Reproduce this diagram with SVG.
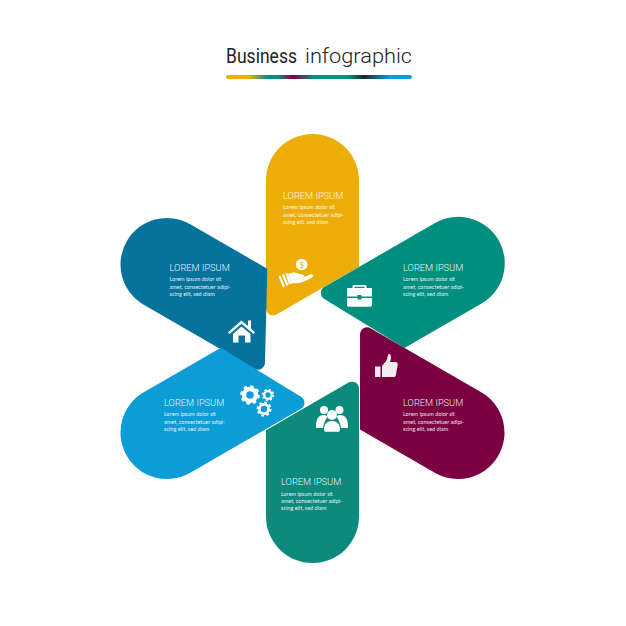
<svg xmlns="http://www.w3.org/2000/svg" width="626" height="626" viewBox="0 0 626 626">
<style>
.h{font-family:Roboto,"Liberation Sans",sans-serif;font-size:21px;fill:#222}
.t{font-family:Roboto,"Liberation Sans",sans-serif;font-size:9.300px;font-weight:300;fill:#fff;fill-opacity:.95}
.b{font-family:Lato,"Liberation Sans",sans-serif;font-size:5.500px;font-weight:400;fill:#fff;fill-opacity:.92}
.i{fill:#fff}
</style>
<defs>
<path id="petal" d="M266 180.500A46.500 46.500 0 0 1 359 180.500L359 266.800L276.500 314.400A7 7 0 0 1 266 308.400Z"/>
<path id="petal-w" d="M266 180.500A46.500 46.500 0 0 1 359 180.500L359 269.500L276.500 314.400A7 7 0 0 1 266 308.400Z"/>
<linearGradient id="bar" x1="0" x2="1" y1="0" y2="0">
<stop offset="0" stop-color="#ecae06"/><stop offset=".12" stop-color="#ecae06"/><stop offset=".22" stop-color="#0b8f80"/><stop offset=".28" stop-color="#0b8f80"/><stop offset=".36" stop-color="#7f0045"/><stop offset=".47" stop-color="#0b8f80"/><stop offset=".66" stop-color="#0b8f80"/><stop offset=".74" stop-color="#1a2a2c"/><stop offset=".88" stop-color="#0c9cd6"/><stop offset="1" stop-color="#0c9cd6"/>
</linearGradient>
</defs>
<rect width="626" height="626" fill="#fff"/>
<g id="title">
<text class="h" x="226" y="63.300" font-weight="400" textLength="71" lengthAdjust="spacingAndGlyphs">Business</text>
<text class="h" x="305" y="63.300" font-weight="300" textLength="107" lengthAdjust="spacingAndGlyphs">infographic</text>
<rect x="226" y="75" width="186" height="4" rx="2" fill="url(#bar)"/>
</g>
<g id="node-yellow">
<use href="#petal" fill="#ecae06"/>
<text class="t" x="283" y="199">LOREM IPSUM</text>
<text class="b" x="283" y="209">Lorem ipsum dolor sit</text><text class="b" x="283" y="216.500">amet, consectetuer adipi-</text><text class="b" x="283" y="224">scing elit, sed diam</text>
<circle class="i" cx="301.700" cy="264.500" r="5.800"/>
<text x="301.700" y="267.500" text-anchor="middle" font-family="Lato,'Liberation Sans',sans-serif" font-size="8" fill="#ecae06">$</text>
<path class="i" d="M278.500 276.500L280.500 275.500L285 286.500L283 287.500ZM282 275L284 274L288.500 285L286.500 286ZM285.500 273.500L287.500 272.700L291 283.500L289 284.500Z"/>
<path class="i" d="M288 274C292 272 295 272 298 273.500L303 274.800C305 275.300 304.500 277.500 302.500 277.500H297.500L303 277.600L310 274.600C312 273.800 314 275 313 276.500C309 279.500 304 282 299 283C296 283.500 293 283 291 283.500Z"/>
</g>
<g id="node-teal-right">
<use href="#petal-w" transform="translate(0.300 -1.200) rotate(60 312.500 348.500)" fill="#008f7e"/>
<text class="t" x="403" y="270.500">LOREM IPSUM</text>
<text class="b" x="403" y="281">Lorem ipsum dolor sit</text><text class="b" x="403" y="288.500">amet, consectetuer adipi-</text><text class="b" x="403" y="296">scing elit, sed diam</text>
<path class="i" d="M352.500 288V286.500C352.500 285.500 353.500 285 354.500 285H364.500C365.500 285 366.500 285.500 366.500 286.500V288H372V296.500H361.500V295H357.500V296.500H347V288H352.500ZM354.500 288H364.500V286.700H354.500Z" fill-rule="evenodd"/>
<path class="i" d="M347 298H357.500V299.500H361.500V298H372V305C372 306 371 306.800 370 306.800H349C348 306.800 347 306 347 305Z"/>
</g>
<g id="node-maroon">
<use href="#petal" transform="rotate(120 312.500 348.500)" fill="#7a0041"/>
<text class="t" x="403" y="405.500">LOREM IPSUM</text>
<text class="b" x="403" y="416">Lorem ipsum dolor sit</text><text class="b" x="403" y="423.500">amet, consectetuer adipi-</text><text class="b" x="403" y="431">scing elit, sed diam</text>
<rect x="375" y="366.500" width="5.500" height="10.500" fill="#f1eef1"/>
<path d="M382 366L386.500 360.500C387.500 358 387.500 355.500 388.500 354C390.500 353.500 391.500 355.500 391 358.500L390 362H395.500C397.500 362 398 363.500 397.700 365L395.800 375.500C395.500 376.700 394.500 377 393.500 377H382Z" fill="#f1eef1"/>
</g>
<g id="node-darkblue">
<use href="#petal-w" transform="rotate(300 312.500 348.500)" fill="#07739c"/>
<text class="t" x="169.500" y="270.500">LOREM IPSUM</text>
<text class="b" x="169.500" y="281">Lorem ipsum dolor sit</text><text class="b" x="169.500" y="288.500">amet, consectetuer adipi-</text><text class="b" x="169.500" y="296">scing elit, sed diam</text>
<path class="i" d="M241.500 320.500L248 326V320.500H251V328.600L255 332.200L253.400 334L241.500 323.800L229.600 334L228 332.200ZM241.500 326.500L250.500 334V342.500H245V335.500H238.500V342.500H233V334Z"/>
</g>
<g id="node-lightblue">
<use href="#petal-w" transform="rotate(240 312.500 348.500)" fill="#0c9cd6"/>
<text class="t" x="164" y="405.700">LOREM IPSUM</text>
<text class="b" x="164" y="416">Lorem ipsum dolor sit</text><text class="b" x="164" y="423.500">amet, consectetuer adipi-</text><text class="b" x="164" y="431">scing elit, sed diam</text>
<g fill="none" stroke="#fff">
<circle cx="250" cy="395" r="6" stroke-width="4.400"/><circle cx="250" cy="395" r="8.600" stroke-width="2.400" stroke-dasharray="3.400 3.350"/>
<circle cx="268" cy="395" r="3.800" stroke-width="2.200"/><circle cx="268" cy="395" r="5.400" stroke-width="1.600" stroke-dasharray="2.100 2.140"/>
<circle cx="264" cy="409" r="4.600" stroke-width="2.800"/><circle cx="264" cy="409" r="6.600" stroke-width="1.800" stroke-dasharray="2.600 2.580"/>
</g>
</g>
<g id="node-teal-bottom">
<use href="#petal" transform="rotate(180 312.500 348.500)" fill="#0c8a7c"/>
<text class="t" x="281" y="484.800">LOREM IPSUM</text>
<text class="b" x="281" y="495.500">Lorem ipsum dolor sit</text><text class="b" x="281" y="503">amet, consectetuer adipi-</text><text class="b" x="281" y="510">scing elit, sed diam</text>
<circle class="i" cx="324" cy="410" r="4"/><circle class="i" cx="339.500" cy="410" r="4"/>
<path class="i" d="M316 427C316 418 319 415 324 415C326 415 327 416 327.500 417C325 420 323.500 424 323 428H318C317 428 316 428 316 427ZM348 427C348 418 345 415 339.500 415C338 415 337 416 336.500 417C339 420 340.500 424 341 428H346C347 428 348 428 348 427Z"/>
<circle class="i" cx="332" cy="415" r="5"/>
<path class="i" d="M324 430C324 424 327 421 332 421C337 421 340 424 340 430C340 431 339 431.800 338 431.800H326C325 431.800 324 431 324 430Z"/>
</g>
</svg>
